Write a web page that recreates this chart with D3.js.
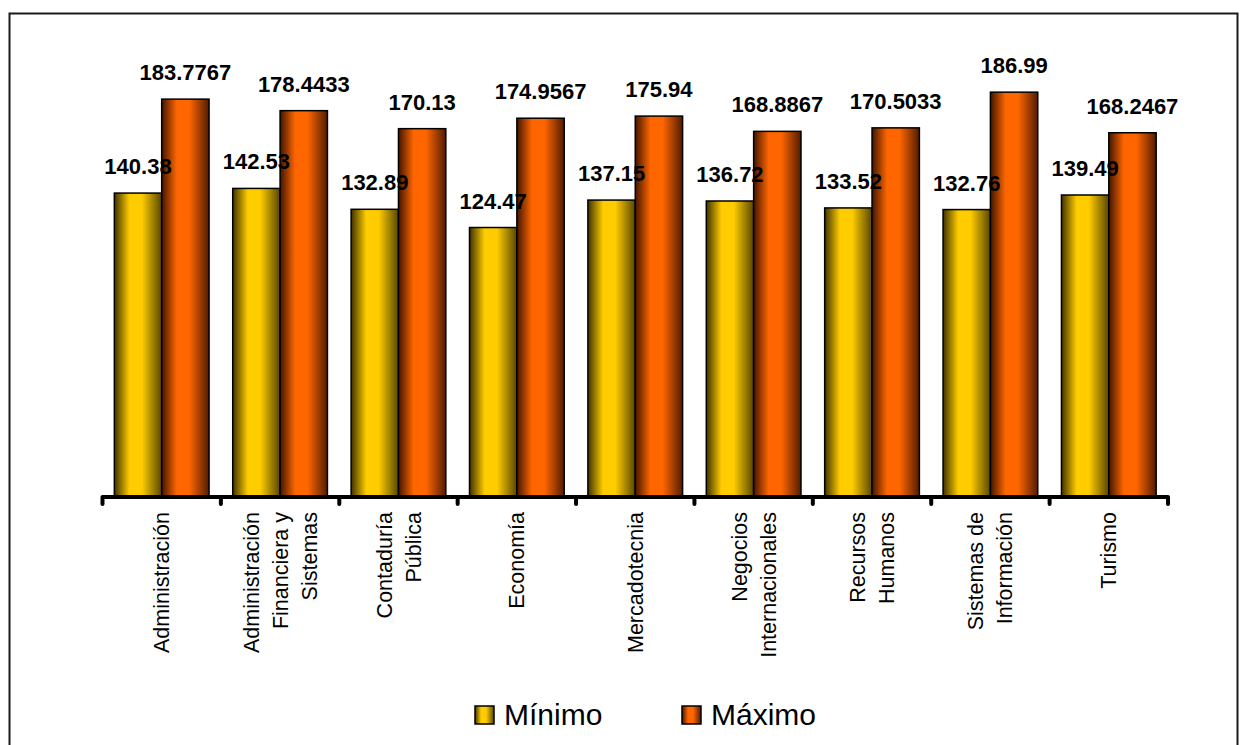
<!DOCTYPE html>
<html>
<head>
  <meta charset="utf-8">
  <title>Mínimo y Máximo por carrera</title>
  <script src="https://d3js.org/d3.v7.min.js"></script>
  <style>
    body {
      margin: 0;
      padding: 0;
      background-color: white;
      font-family: "Liberation Sans", Arial, sans-serif;
    }
    .value-label {
      font-size: 22px;
      font-weight: bold;
      fill: black;
    }
    .cat-label {
      font-size: 21.5px;
      fill: black;
    }
    .legend-text {
      font-size: 30px;
      fill: black;
    }
  </style>
</head>
<body>

  <div id="chart"></div>

  <script>
    // Data
    var categories = ["Administración", "Administración Financiera y Sistemas", "Contaduría Pública",
                      "Economía", "Mercadotecnia", "Negocios Internacionales", "Recursos Humanos",
                      "Sistemas de Información", "Turismo"];
    // tick labels as they are wrapped in the chart
    var categoryLines = [["Administración"], ["Administración", "Financiera y", "Sistemas"],
                         ["Contaduría", "Pública"], ["Economía"], ["Mercadotecnia"],
                         ["Negocios", "Internacionales"], ["Recursos", "Humanos"],
                         ["Sistemas de", "Información"], ["Turismo"]];
    var seriesNames = ["Mínimo", "Máximo"];
    var minimo = [140.38, 142.53, 132.89, 124.47, 137.15, 136.72, 133.52, 132.76, 139.49];
    var maximo = [183.7767, 178.4433, 170.13, 174.9567, 175.94, 168.8867, 170.5033, 186.99, 168.2467];

    var width = 1248,
        height = 745;

    var svg = d3.select("#chart")
      .append("svg")
        .attr("width", width)
        .attr("height", height);

    // gradients (dark edges, bright middle)
    var defs = svg.append("defs");
    var grads = [
      { id: "gMin", dark: "#3f3200", light: "#ffcc00", right: "#574600" },
      { id: "gMax", dark: "#431500", light: "#ff6600", right: "#521b00" }
    ];
    grads.forEach(function(g) {
      var lg = defs.append("linearGradient")
          .attr("id", g.id)
          .attr("x1", "0%").attr("x2", "100%")
          .attr("y1", "0%").attr("y2", "0%");
      lg.append("stop").attr("offset", "0%").attr("stop-color", g.dark);
      lg.append("stop").attr("offset", "32%").attr("stop-color", g.light);
      lg.append("stop").attr("offset", "58%").attr("stop-color", g.light);
      lg.append("stop").attr("offset", "100%").attr("stop-color", g.right);
    });

    // chart frame
    svg.append("rect")
        .attr("x", 9.5)
        .attr("y", 13.5)
        .attr("width", 1228)
        .attr("height", 760)
        .attr("fill", "none")
        .attr("stroke", "#1a1a1a")
        .attr("stroke-width", 2);

    // scales
    var x0 = d3.scaleBand()
        .domain(categories)
        .range([102.5, 1168]);

    var x1 = d3.scaleBand()
        .domain(seriesNames)
        .range([x0.bandwidth() * 0.1, x0.bandwidth() * 0.9]);

    var y = d3.scaleLinear()
        .domain([0, 200])
        .range([497, 64]);

    var series = [
      { name: "Mínimo", values: minimo, fill: "url(#gMin)" },
      { name: "Máximo", values: maximo, fill: "url(#gMax)" }
    ];

    // bars
    series.forEach(function(s) {
      svg.selectAll(".bar-" + s.name)
          .data(s.values)
        .enter().append("rect")
          .attr("x", function(d, i) { return x0(categories[i]) + x1(s.name); })
          .attr("y", function(d) { return y(d); })
          .attr("width", x1.bandwidth())
          .attr("height", function(d) { return y(0) - y(d); })
          .attr("fill", s.fill)
          .attr("stroke", "black")
          .attr("stroke-width", 1.5);
    });

    // value labels on top of everything
    series.forEach(function(s) {
      svg.selectAll(".lab-" + s.name)
          .data(s.values)
        .enter().append("text")
          .attr("class", "value-label")
          .attr("x", function(d, i) { return x0(categories[i]) + x1(s.name) + x1.bandwidth() / 2; })
          .attr("y", function(d) { return y(d) - 19; })
          .attr("text-anchor", "middle")
          .text(function(d) { return String(d); });
    });

    // x axis
    var axis = svg.append("g")
        .attr("transform", "translate(0," + y(0) + ")")
        .call(d3.axisBottom(x0).tickSize(0).tickFormat(""));
    axis.select(".domain").remove();
    axis.append("line")
        .attr("x1", 102.5).attr("x2", 1168)
        .attr("y1", 0).attr("y2", 0)
        .attr("stroke", "black")
        .attr("stroke-width", 4);
    // tick marks at the category boundaries
    var bounds = categories.map(function(c) { return x0(c); }).concat([x0.range()[1]]);
    axis.selectAll(".tickmark")
        .data(bounds)
      .enter().append("line")
        .attr("x1", function(d) { return d; })
        .attr("x2", function(d) { return d; })
        .attr("y1", 0).attr("y2", 7)
        .attr("stroke", "black")
        .attr("stroke-width", 4)
        .attr("stroke-linecap", "round");

    // category labels, rotated and wrapped
    var lineGap = 29;
    categoryLines.forEach(function(lines, i) {
      var cx = x0(categories[i]) + x0.bandwidth() / 2;
      lines.forEach(function(line, j) {
        var lx = cx + (j - (lines.length - 1) / 2) * lineGap;
        svg.append("text")
            .attr("class", "cat-label")
            .attr("transform", "translate(" + lx + ",512) rotate(-90)")
            .attr("text-anchor", "end")
            .attr("dy", "0.35em")
            .text(line);
      });
    });

    // legend
    var legend = [
      { name: "Mínimo", fill: "url(#gMin)", x: 475 },
      { name: "Máximo", fill: "url(#gMax)", x: 682 }
    ];
    legend.forEach(function(l) {
      svg.append("rect")
          .attr("x", l.x).attr("y", 706)
          .attr("width", 19).attr("height", 18)
          .attr("fill", l.fill)
          .attr("stroke", "black")
          .attr("stroke-width", 1.5);
      svg.append("text")
          .attr("class", "legend-text")
          .attr("x", l.x + 29)
          .attr("y", 725)
          .text(l.name);
    });
  </script>

</body>
</html>
